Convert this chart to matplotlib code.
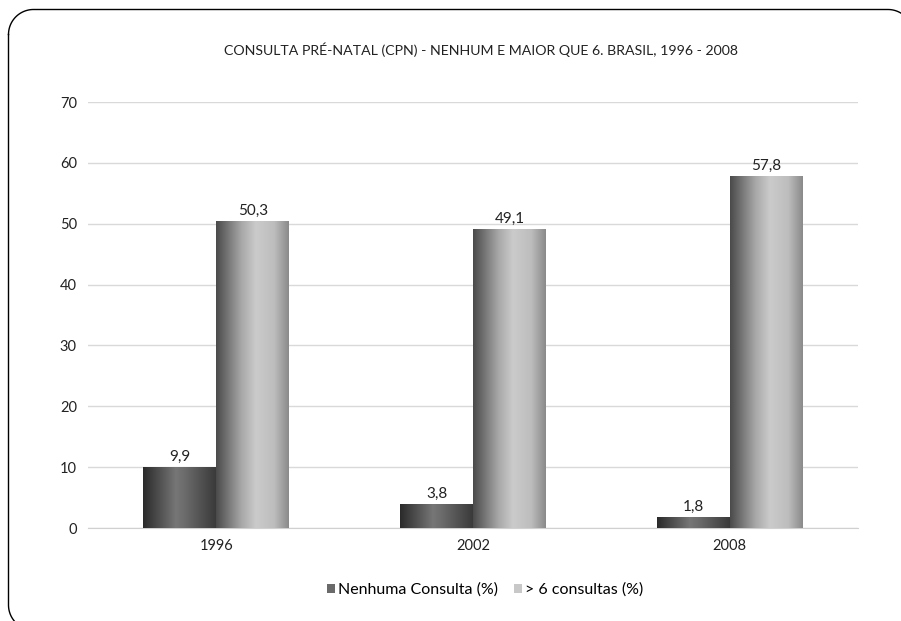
import numpy as np
import matplotlib.pyplot as plt
from matplotlib.colors import LinearSegmentedColormap
from matplotlib.patches import Patch

plt.rcParams['font.family'] = ['Lato', 'DejaVu Sans']

anos = ['1996', '2002', '2008']
nenhuma = [9.9, 3.8, 1.8]
mais6 = [50.3, 49.1, 57.8]
titulo = 'CONSULTA PRÉ-NATAL (CPN) - NENHUM E MAIOR QUE 6. BRASIL, 1996 - 2008'
serie_nomes = ['Nenhuma Consulta (%)', '> 6 consultas (%)']

cmap_dark = LinearSegmentedColormap.from_list(
    'dark', [(0, '#2a2a2a'), (0.45, '#767676'), (0.55, '#6e6e6e'), (1, '#3a3a3a')])
cmap_light = LinearSegmentedColormap.from_list(
    'light', [(0, '#4a4a4a'), (0.35, '#a8a8a8'), (0.55, '#cbcbcb'), (0.8, '#bdbdbd'), (1, '#8a8a8a')])

fig = plt.figure(figsize=(9.01, 6.21), dpi=100)

# background axes in pixel units (y down), for the rounded border
bg = fig.add_axes([0, 0, 1, 1])
bg.set_xlim(0, 901)
bg.set_ylim(621, 0)
bg.axis('off')
x0, y0, x1, y1, r = 8.5, 9.5, 913, 630, 25
t = np.linspace(0, np.pi / 2, 30)
bx = np.concatenate([x0 + r - r*np.cos(t)[::-1] * 0 + (-r*np.cos(t)), x1 - r + r*np.sin(t),
                     x1 - r + r*np.cos(t), x0 + r - r*np.sin(t), [x0]])
by = np.concatenate([y0 + r - r*np.sin(t), y0 + r - r*np.cos(t),
                     y1 - r + r*np.sin(t), y1 - r + r*np.cos(t), [y0 + r]])
bg.plot(bx, by, color='black', lw=1.0)

ax = fig.add_axes([88/901, 1-528/621, 770/901, 426/621])

w = 0.284
x = np.arange(len(anos))
grad = np.linspace(0, 1, 256).reshape(1, -1)

for i in range(len(anos)):
    for left, val, cm in [(x[i] - w, nenhuma[i], cmap_dark), (x[i], mais6[i], cmap_light)]:
        ax.imshow(grad, cmap=cm, aspect='auto', extent=(left, left + w, 0, val),
                  zorder=3, interpolation='bilinear')
        ax.text(left + w/2, val + 0.6, f'{val:.1f}'.replace('.', ','),
                ha='center', va='bottom', fontsize=11, color='#222222', zorder=4)

ax.set_xlim(-0.5, 2.5)
ax.set_ylim(0, 70)
ax.set_yticks(range(0, 71, 10))
ax.set_xticks(x)
ax.set_xticklabels(anos)
ax.tick_params(length=0, labelsize=10.5, colors='#222222')
ax.tick_params(axis='y', pad=8)
ax.tick_params(axis='x', pad=8)
ax.grid(axis='y', color='#d9d9d9', linewidth=1, zorder=0)
for s in ['top', 'right', 'left']:
    ax.spines[s].set_visible(False)
ax.spines['bottom'].set_color('#d0d0d0')
ax.set_axisbelow(True)

fig.text(481/901, 1-50/621, titulo, ha='center', va='center', fontsize=10.2, color='#222222')

handles = [Patch(facecolor='#6a6a6a'), Patch(facecolor='#c8c8c8')]
fig.legend(handles, serie_nomes, loc='center', bbox_to_anchor=(485/901, 1-590/621),
           ncol=2, frameon=False, fontsize=11.5, handlelength=0.5, handleheight=0.5,
           handletextpad=0.2, columnspacing=1.0)

fig.savefig('out.png', dpi=100)
